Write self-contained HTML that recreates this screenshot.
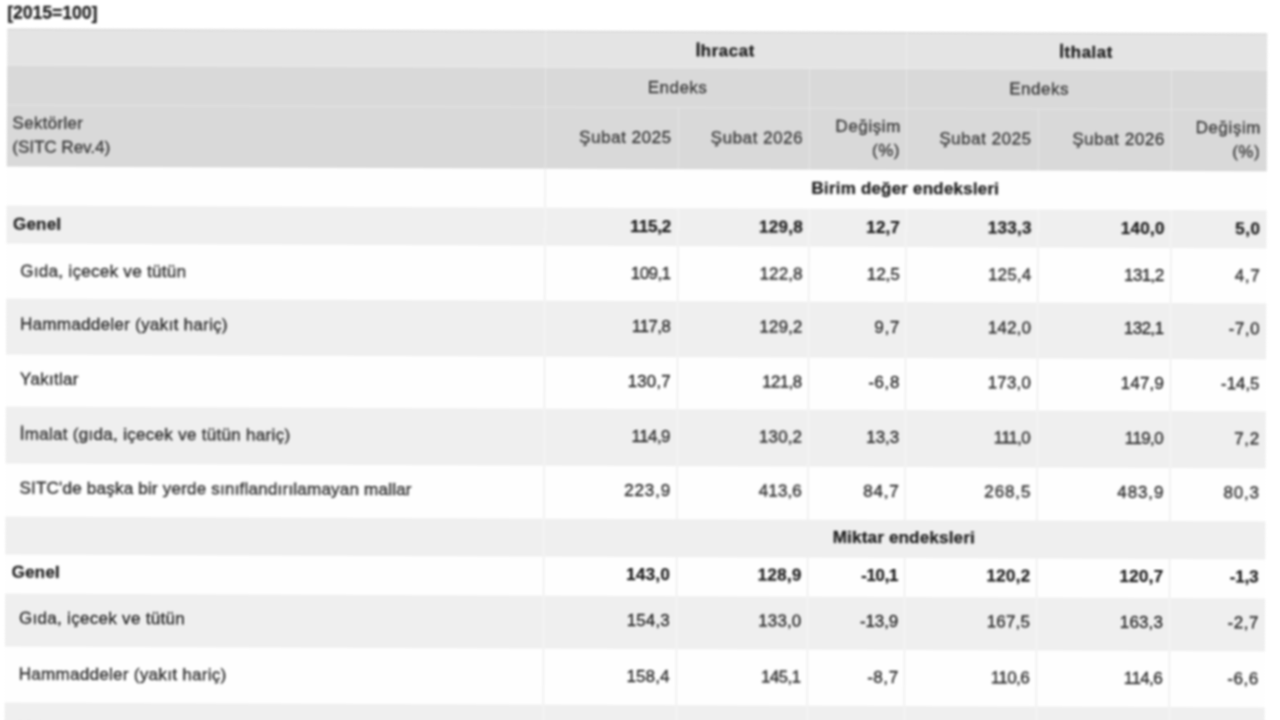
<!DOCTYPE html>
<html lang="tr">
<head>
<meta charset="utf-8">
<title>Dış Ticaret Endeksleri</title>
<style>
html,body{margin:0;padding:0;background:#fff;}
body{width:1280px;height:720px;overflow:hidden;position:relative;font-family:"Liberation Sans",Arial,sans-serif;color:#2a2a2a;}
#wrap{position:absolute;left:0;top:0;width:1280px;height:720px;transform-origin:640px 360px;transform:rotate(0.22deg);filter:blur(0.85px);}
.cap{position:absolute;left:6px;top:5px;font-size:17.5px;font-weight:bold;line-height:20px;}
table{position:absolute;left:6px;top:30.8px;width:1259.5px;border-collapse:separate;border-spacing:0;table-layout:fixed;font-size:17px;}
td,th{padding:var(--pt,1px) calc(6px - var(--l,0px)) var(--pb,0px) 0;letter-spacing:var(--l,0px);text-align:right;vertical-align:middle;font-weight:normal;border-right:1.5px solid rgba(255,255,255,0.5);box-sizing:border-box;overflow:hidden;white-space:nowrap;}
td:last-child,th:last-child{border-right:none;}
td:first-child,th:first-child{text-align:left;padding-left:14px;letter-spacing:var(--l,0.3px);}
/* weights / colours */
.cap,tr.h1 th,tr.sec td,tr.gen td{color:#1a1a1a;-webkit-text-stroke:0.25px #1a1a1a;}
tr.h2 th,tr.h3 th{color:#3c3c3c;-webkit-text-stroke:0.35px #3c3c3c;}
tr.row td{color:#2c2c2c;-webkit-text-stroke:0.35px #2c2c2c;}
/* header */
tr.h1 th{background:#e4e4e4;height:37.5px;text-align:center;padding:2px 2px 0 0;font-weight:bold;letter-spacing:0.5px;border-bottom:1.5px solid rgba(255,255,255,0.35);border-top:1px solid #d2d2d2;}
tr.h2 th{background:#d9d9d9;height:39.5px;text-align:center;padding:1px 0 0 0;letter-spacing:0.5px;border-bottom:1.5px solid rgba(255,255,255,0.3);}
tr.h3 th{background:#d9d9d9;height:61.5px;line-height:24px;letter-spacing:0.55px;padding:0 6px 2px 0;}
tr.h1 th,tr.h2 th,tr.h3 th{border-right-color:rgba(255,255,255,0.36);}
tr.h3 th.dg{line-height:23.5px;}
tr.h3 th.dg span{letter-spacing:0.55px;margin-right:-0.55px;}
tr.h3 th:first-child{padding-left:5.5px;letter-spacing:0.3px;}
tr.h3 th:first-child span{letter-spacing:0;}
/* body */
tr.sec td{height:var(--h,39px);text-align:center;font-weight:bold;letter-spacing:0.2px;padding-right:1px;}
tr.gen td{height:var(--h,37.4px);font-weight:bold;}
tr.gen td:first-child{padding-left:6.5px;letter-spacing:0.2px;}
tr.row td{height:var(--h,55px);}
tr.g td{background:#efefef;}
tr.w td{background:#fefefe;border-right-color:#e6e6e6;}
</style>
</head>
<body>
<div id="wrap">
<div class="cap">[2015=100]</div>
<table>
<colgroup><col style="width:538.5px"><col style="width:133px"><col style="width:131.5px"><col style="width:97px"><col style="width:131.5px"><col style="width:133px"><col style="width:94.5px"></colgroup>
<tr class="h1"><th></th><th colspan="3">İhracat</th><th colspan="3">İthalat</th></tr>
<tr class="h2"><th></th><th colspan="2">Endeks</th><th></th><th colspan="2">Endeks</th><th></th></tr>
<tr class="h3"><th>Sektörler<br><span>(SITC Rev.4)</span></th><th>Şubat 2025</th><th>Şubat 2026</th><th class="dg"><span>Değişim</span><br>(%)</th><th>Şubat 2025</th><th>Şubat 2026</th><th class="dg"><span>Değişim</span><br>(%)</th></tr>
<tr class="sec w" style="--h:39px;--pt:0px;--pb:1px;"><td></td><td colspan="6">Birim değer endeksleri</td></tr>
<tr class="gen g" style="--h:37.4px;--pt:0px;--pb:0px;"><td>Genel</td><td style="--l:-0.16px">115,2</td><td style="--l:0.28px">129,8</td><td style="--l:0.12px">12,7</td><td style="--l:0.28px">133,3</td><td style="--l:0.28px">140,0</td><td style="--l:0.6px">5,0</td></tr>
<tr class="row w" style="--h:55.6px;--pt:2px;--pb:0px;"><td>Gıda, içecek ve tütün</td><td style="--l:-0.6px">109,1</td><td style="--l:0.14px">122,8</td><td style="--l:-0.1px">12,5</td><td style="--l:0.14px">125,4</td><td style="--l:-0.6px">131,2</td><td style="--l:0.73px">4,7</td></tr>
<tr class="row g" style="--h:55.4px;--pt:0px;--pb:4px;"><td>Hammaddeler (yakıt hariç)</td><td style="--l:-0.6px">117,8</td><td style="--l:0.14px">129,2</td><td style="--l:0.73px">9,7</td><td style="--l:0.14px">142,0</td><td style="--l:-0.6px">132,1</td><td style="--l:0.55px">-7,0</td></tr>
<tr class="row w" style="--h:52.8px;--pt:0px;--pb:2.2px;"><td>Yakıtlar</td><td style="--l:0.14px">130,7</td><td style="--l:-0.6px">121,8</td><td style="--l:0.55px">-6,8</td><td style="--l:0.14px">173,0</td><td style="--l:0.14px">147,9</td><td style="--l:-0.08px">-14,5</td></tr>
<tr class="row g" style="--h:56.2px;--pt:0px;--pb:1px;"><td>İmalat (gıda, içecek ve tütün hariç)</td><td style="--l:-0.6px">114,9</td><td style="--l:0.14px">130,2</td><td style="--l:-0.1px">13,3</td><td style="--l:-0.8px">111,0</td><td style="--l:-0.6px">119,0</td><td style="--l:0.73px">7,2</td></tr>
<tr class="row w" style="--h:53.1px;--pt:0px;--pb:1.5px;"><td style="--l:0.22px">SITC'de başka bir yerde sınıflandırılamayan mallar</td><td style="--l:0.88px">223,9</td><td style="--l:0.14px">413,6</td><td style="--l:0.83px">84,7</td><td style="--l:0.88px">268,5</td><td style="--l:0.88px">483,9</td><td style="--l:0.83px">80,3</td></tr>
<tr class="sec g" style="--h:38.4px;--pt:0px;--pb:1px;"><td></td><td colspan="6">Miktar endeksleri</td></tr>
<tr class="gen w" style="--h:38.5px;--pt:0px;--pb:2.5px;"><td>Genel</td><td style="--l:0.28px">143,0</td><td style="--l:0.28px">128,9</td><td style="--l:-0.34px">-10,1</td><td style="--l:0.28px">120,2</td><td style="--l:0.28px">120,7</td><td style="--l:-0.1px">-1,3</td></tr>
<tr class="row g" style="--h:53.8px;--pt:0px;--pb:3px;"><td>Gıda, içecek ve tütün</td><td style="--l:0.14px">154,3</td><td style="--l:0.14px">133,0</td><td style="--l:-0.08px">-13,9</td><td style="--l:0.14px">167,5</td><td style="--l:0.14px">163,3</td><td style="--l:0.55px">-2,7</td></tr>
<tr class="row w" style="--h:55.4px;--pt:0px;--pb:1px;"><td>Hammaddeler (yakıt hariç)</td><td style="--l:0.14px">158,4</td><td style="--l:-0.6px">145,1</td><td style="--l:0.55px">-8,7</td><td style="--l:-0.6px">110,6</td><td style="--l:-0.6px">114,6</td><td style="--l:0.55px">-6,6</td></tr>
<tr class="row g" style="--h:55px;--pt:0px;--pb:1px;"><td>Yakıtlar</td><td style="--l:0.14px">146,9</td><td style="--l:0.14px">179,9</td><td style="--l:0.83px">22,5</td><td style="--l:-0.1px">91,2</td><td style="--l:0.83px">86,5</td><td style="--l:0.55px">-5,2</td></tr>
</table>
</div>
</body>
</html>
